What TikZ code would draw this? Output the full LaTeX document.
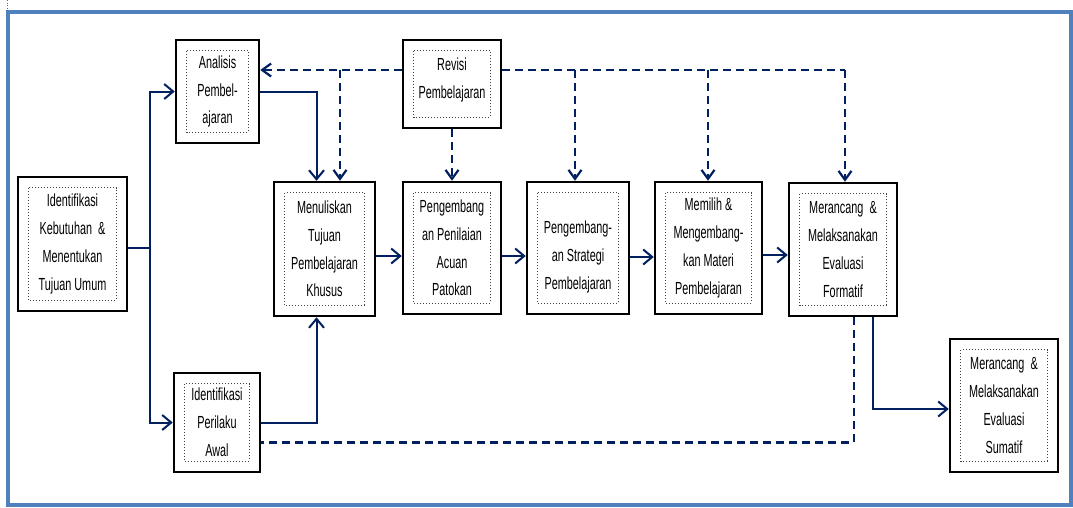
\documentclass[tikz,border=0pt]{standalone}
\usepackage{fontspec}
\setmainfont[FakeStretch=0.62]{Liberation Sans}
\usetikzlibrary{arrows.meta}
\definecolor{navy}{RGB}{0,32,96}
\definecolor{frameblue}{RGB}{79,129,189}
\tikzset{
  box/.style={draw=black, line width=2.5pt, align=center, fill=white,
    font=\fontsize{17.5}{27.8}\selectfont, inner sep=0pt},
  shiftbox/.style={draw=black, line width=2.5pt, fill=white,
    font=\fontsize{17.5}{27.8}\selectfont, inner sep=0pt},
  innerbox/.style={draw=black!75, line width=1pt, dotted},
  arr/.style={navy, line width=2pt, -{Straight Barb[length=9pt,width=15pt]}},
  darr/.style={navy, line width=2.2pt, dash pattern=on 8pt off 5pt, -{Straight Barb[length=9pt,width=13pt]}},
  dline/.style={navy, line width=2.2pt, dash pattern=on 8pt off 5pt},
}
\newcommand{\mylines}[2]{\raisebox{#1}[0pt][0pt]{\begin{tabular}{@{}c@{}}#2\end{tabular}}}
\begin{document}
\begin{tikzpicture}[x=1pt,y=-1pt]
\path[fill=white] (0,0) rectangle (1073,507);
\useasboundingbox (0,0) rectangle (1073,507);
\draw[frameblue, line width=4pt] (8,12) rectangle (1071,505);
\draw[black!60, dotted, line width=0.6pt] (7,0) -- (7,11);

\node[box, minimum width=109pt, minimum height=134pt] (k) at (72.5,244) {Identifikasi\\Kebutuhan \ \&\\Menentukan\\Tujuan Umum};
\node[box, minimum width=83pt, minimum height=103pt] (a) at (217.5,91.5) {Analisis\\Pembel-\\ajaran};
\node[box, minimum width=86pt, minimum height=99pt] (p) at (217,422.5) {Identifikasi\\Perilaku\\Awal};
\node[box, minimum width=101pt, minimum height=134pt] (m) at (324.5,249) {Menuliskan\\Tujuan\\Pembelajaran\\Khusus};
\node[shiftbox, minimum width=98pt, minimum height=88pt] (r) at (452,84) {\mylines{1pt}{Revisi\\Pembelajaran}};
\node[box, minimum width=98pt, minimum height=132pt] (n) at (452,248) {Pengembang\\an Penilaian\\Acuan\\Patokan};
\node[shiftbox, minimum width=102pt, minimum height=132pt] (s) at (578,248) {\mylines{-12pt}{Pengembang-\\an Strategi\\Pembelajaran}};
\node[box, minimum width=107pt, minimum height=132pt] (mm) at (708.5,248) {Memilih \&\\Mengembang-\\kan Materi\\Pembelajaran};
\node[box, minimum width=108pt, minimum height=133pt] (f) at (843,249.5) {Merancang \ \&\\Melaksanakan\\Evaluasi\\Formatif};
\node[box, minimum width=108pt, minimum height=133pt] (su) at (1004,405.5) {Merancang \ \&\\Melaksanakan\\Evaluasi\\Sumatif};

\foreach \n in {k,a,p,m,r,n,s,mm,f,su}
  \draw[innerbox] ([shift={(12,12)}]\n.north west) rectangle ([shift={(-12,-12)}]\n.south east);

% solid connectors
\coordinate (split) at (150,248);
\draw[navy, line width=2pt] (k.east |- split) -- (split);
\draw[arr] (split) |- (a.west);
\draw[arr] (split) |- (p.west);
\draw[arr] (a.east) -| ([shift={(-8,0)}]m.north);
\draw[arr] ([shift={(0,0.5)}]p.east) -| ([shift={(-8,0)}]m.south);
\draw[arr] ([shift={(0,7)}]m.east) -- ([shift={(0,8)}]n.west);
\draw[arr] ([shift={(0,8)}]n.east) -- ([shift={(0,8)}]s.west);
\draw[arr] ([shift={(0,9)}]s.east) -- ([shift={(0,9)}]mm.west);
\draw[arr] ([shift={(0,7)}]mm.east) -- ([shift={(0,5.5)}]f.west);
\draw[arr] ([shift={(30,0)}]f.south) |- ([shift={(0,3.5)}]su.west);

% dashed revision connectors
\coordinate (top) at (0,70);
\coordinate (b1) at (340,70);
\coordinate (b2) at (575,70);
\coordinate (b3) at (708,70);
\coordinate (b4) at (845,70);
\draw[darr] (r.west |- top) -- (a.east |- top);
\draw[darr] (b1) -- (b1 |- m.north);
\draw[darr] (r.south) -- (n.north);
\draw[dline] (r.east |- top) -- (b4);
\draw[darr] (b2) -- (b2 |- s.north);
\draw[darr] (b3) -- (b3 |- mm.north);
\draw[darr] (b4) -- (b4 |- f.north);
\draw[dline] ([shift={(11,0)}]f.south) |- ([shift={(0,20)}]p.east);
\end{tikzpicture}
\end{document}
